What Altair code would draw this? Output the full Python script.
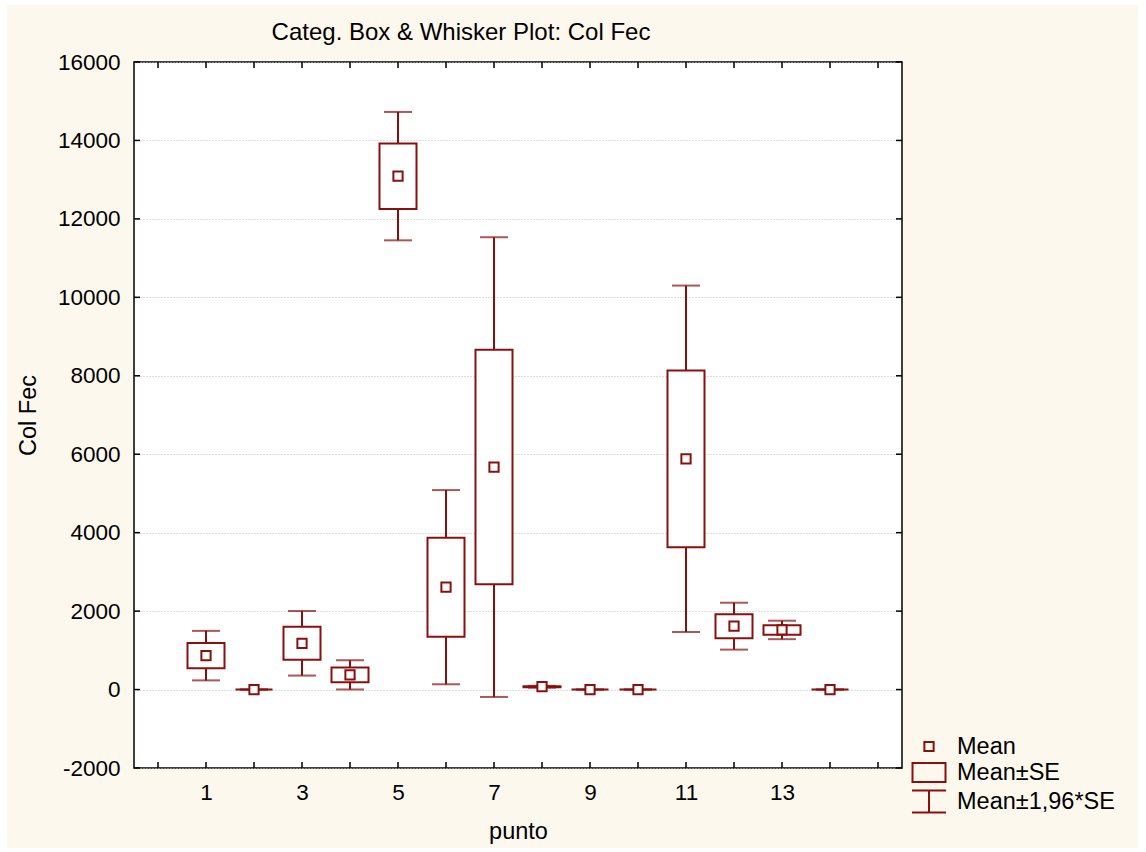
import altair as alt
import pandas as pd

# Col Fec per sampling point: mean and standard error
punto = list(range(1, 15))
mean = [865, 0, 1180, 375, 13090, 2610, 5672, 72, 0, 0, 5884, 1616, 1520, 0]
se = [322, 0, 420, 190, 835, 1263, 2990, 12, 0, 0, 2253, 305, 120, 0]

y_ticks = list(range(-2000, 16001, 2000))
x_ticks = list(range(0, 16))
x_labels = [1, 3, 5, 7, 9, 11, 13]
legend_items = ["Mean", "Mean±SE", "Mean±1,96*SE"]

RED = "#8A1010"
CREAM = "#FDF8EE"
FONT = "Liberation Sans"
W, H = 768, 706

df = pd.DataFrame({"punto": punto, "mean": mean, "se": se})
df["se_lo"] = df["mean"] - df["se"]
df["se_hi"] = df["mean"] + df["se"]
df["ci_lo"] = df["mean"] - 1.96 * df["se"]
df["ci_hi"] = df["mean"] + 1.96 * df["se"]
df["kind"] = "Mean"

xs = alt.Scale(domain=[-0.5, 15.5], nice=False, zero=False, padding=0)
ys = alt.Scale(domain=[-2000, 16000], nice=False, zero=False, padding=0)

x_axis = alt.Axis(
    values=x_labels, labelExpr="'' + datum.value", grid=False, ticks=False,
    tickSize=0, domain=False, labelFont=FONT, labelFontSize=22.5,
    labelColor="black", labelPadding=13, title="punto", titleFont=FONT,
    titleFontSize=23.5, titleFontWeight="normal", titleColor="black",
    titleY=70, titleBaseline="alphabetic",
)
y_axis = alt.Axis(
    values=y_ticks, labelExpr="'' + datum.value", grid=True,
    gridColor="#bdbdbd", gridDash=[1, 2], gridWidth=1, ticks=False,
    tickSize=0, domain=False, labelFont=FONT, labelFontSize=22.5,
    labelColor="black", labelPadding=14, title="Col Fec", titleFont=FONT,
    titleFontSize=23.5, titleFontWeight="normal", titleColor="black",
    titleX=-105.5, titleY=H / 2, titleAngle=270, titleBaseline="middle",
    titleAlign="center",
)


def xq(field):
    return alt.X(f"{field}:Q", scale=xs, axis=x_axis)


def yq(field):
    return alt.Y(f"{field}:Q", scale=ys, axis=y_axis)


# legend / mean symbols as unit-square paths
sq_path = "M-0.42,-0.42H0.42V0.42H-0.42Z"
box_path = "M-1.5,-0.87H1.5V0.87H-1.5Z"
whisk_path = "M-1.55,-1H1.55M0,-1V1M-1.55,1H1.55"

base = alt.Chart(df)

whiskers = base.mark_rule(color=RED, strokeWidth=2).encode(
    x=xq("punto"), y=yq("ci_lo"), y2="ci_hi:Q"
)
boxes = base.mark_bar(size=37, fill="white", stroke=RED, strokeWidth=2).encode(
    x=xq("punto"), y=yq("se_lo"), y2="se_hi:Q"
)
cap_lo = base.mark_tick(orient="horizontal", size=28, thickness=2, color=RED).encode(
    x=xq("punto"), y=yq("ci_lo")
)
cap_hi = base.mark_tick(orient="horizontal", size=28, thickness=2, color=RED).encode(
    x=xq("punto"), y=yq("ci_hi")
)
mean_fill = base.mark_point(
    shape=sq_path, size=484, filled=True, color="white", opacity=1
).encode(x=xq("punto"), y=yq("mean"))
means = base.mark_point(size=484, filled=False, color=RED, strokeWidth=2, opacity=1).encode(
    x=xq("punto"),
    y=yq("mean"),
    shape=alt.Shape(
        "kind:N",
        scale=alt.Scale(domain=legend_items, range=[sq_path, box_path, whisk_path]),
        legend=alt.Legend(
            title=None, orient="none", legendX=783, legendY=672.5, padding=0,
            symbolSize=484, symbolStrokeColor=RED, symbolStrokeWidth=2,
            symbolOpacity=1, labelFont=FONT, labelFontSize=23.5,
            labelColor="black", labelOffset=16, rowPadding=0,
        ),
    ),
)

# inward tick marks on all four sides of the frame
ytk = alt.Chart(pd.DataFrame({"v": y_ticks}))
xtk = alt.Chart(pd.DataFrame({"v": x_ticks}))
tick_left = ytk.mark_rule(color="black", strokeWidth=1.5).encode(
    y=yq("v"), x=alt.value(0), x2=alt.value(6)
)
tick_right = ytk.mark_rule(color="black", strokeWidth=1.5).encode(
    y=yq("v"), x=alt.value(W - 6), x2=alt.value(W)
)
tick_bottom = xtk.mark_rule(color="black", strokeWidth=1.5).encode(
    x=xq("v"), y=alt.value(H - 6), y2=alt.value(H)
)
tick_top = xtk.mark_rule(color="black", strokeWidth=1.5).encode(
    x=xq("v"), y=alt.value(0), y2=alt.value(6)
)

# thin white margin around the cream page
frame = alt.Chart(pd.DataFrame({"a": [0]})).mark_rect(
    filled=False, stroke="white", strokeWidth=12
).encode(
    x=alt.value(-133), x2=alt.value(1010), y=alt.value(-63), y2=alt.value(792)
)

chart = (
    alt.layer(
        frame, whiskers, boxes, cap_lo, cap_hi, mean_fill, means,
        tick_left, tick_right, tick_bottom, tick_top,
    )
    .properties(
        width=W,
        height=H,
        autosize=alt.AutoSizeParams(type="none"),
        padding={"left": 134, "top": 62, "right": 244, "bottom": 84},
        title=alt.TitleParams(
            text="Categ. Box & Whisker Plot: Col Fec", font=FONT, fontSize=24,
            fontWeight="normal", color="black", anchor="middle", frame="group",
            baseline="alphabetic", offset=0, dx=-57, dy=70.7,
        ),
    )
    .configure(background=CREAM)
    .configure_view(fill="white", stroke="black", strokeWidth=1.5)
)

chart.save("out.html", embed_options={"renderer": "svg", "actions": False})
